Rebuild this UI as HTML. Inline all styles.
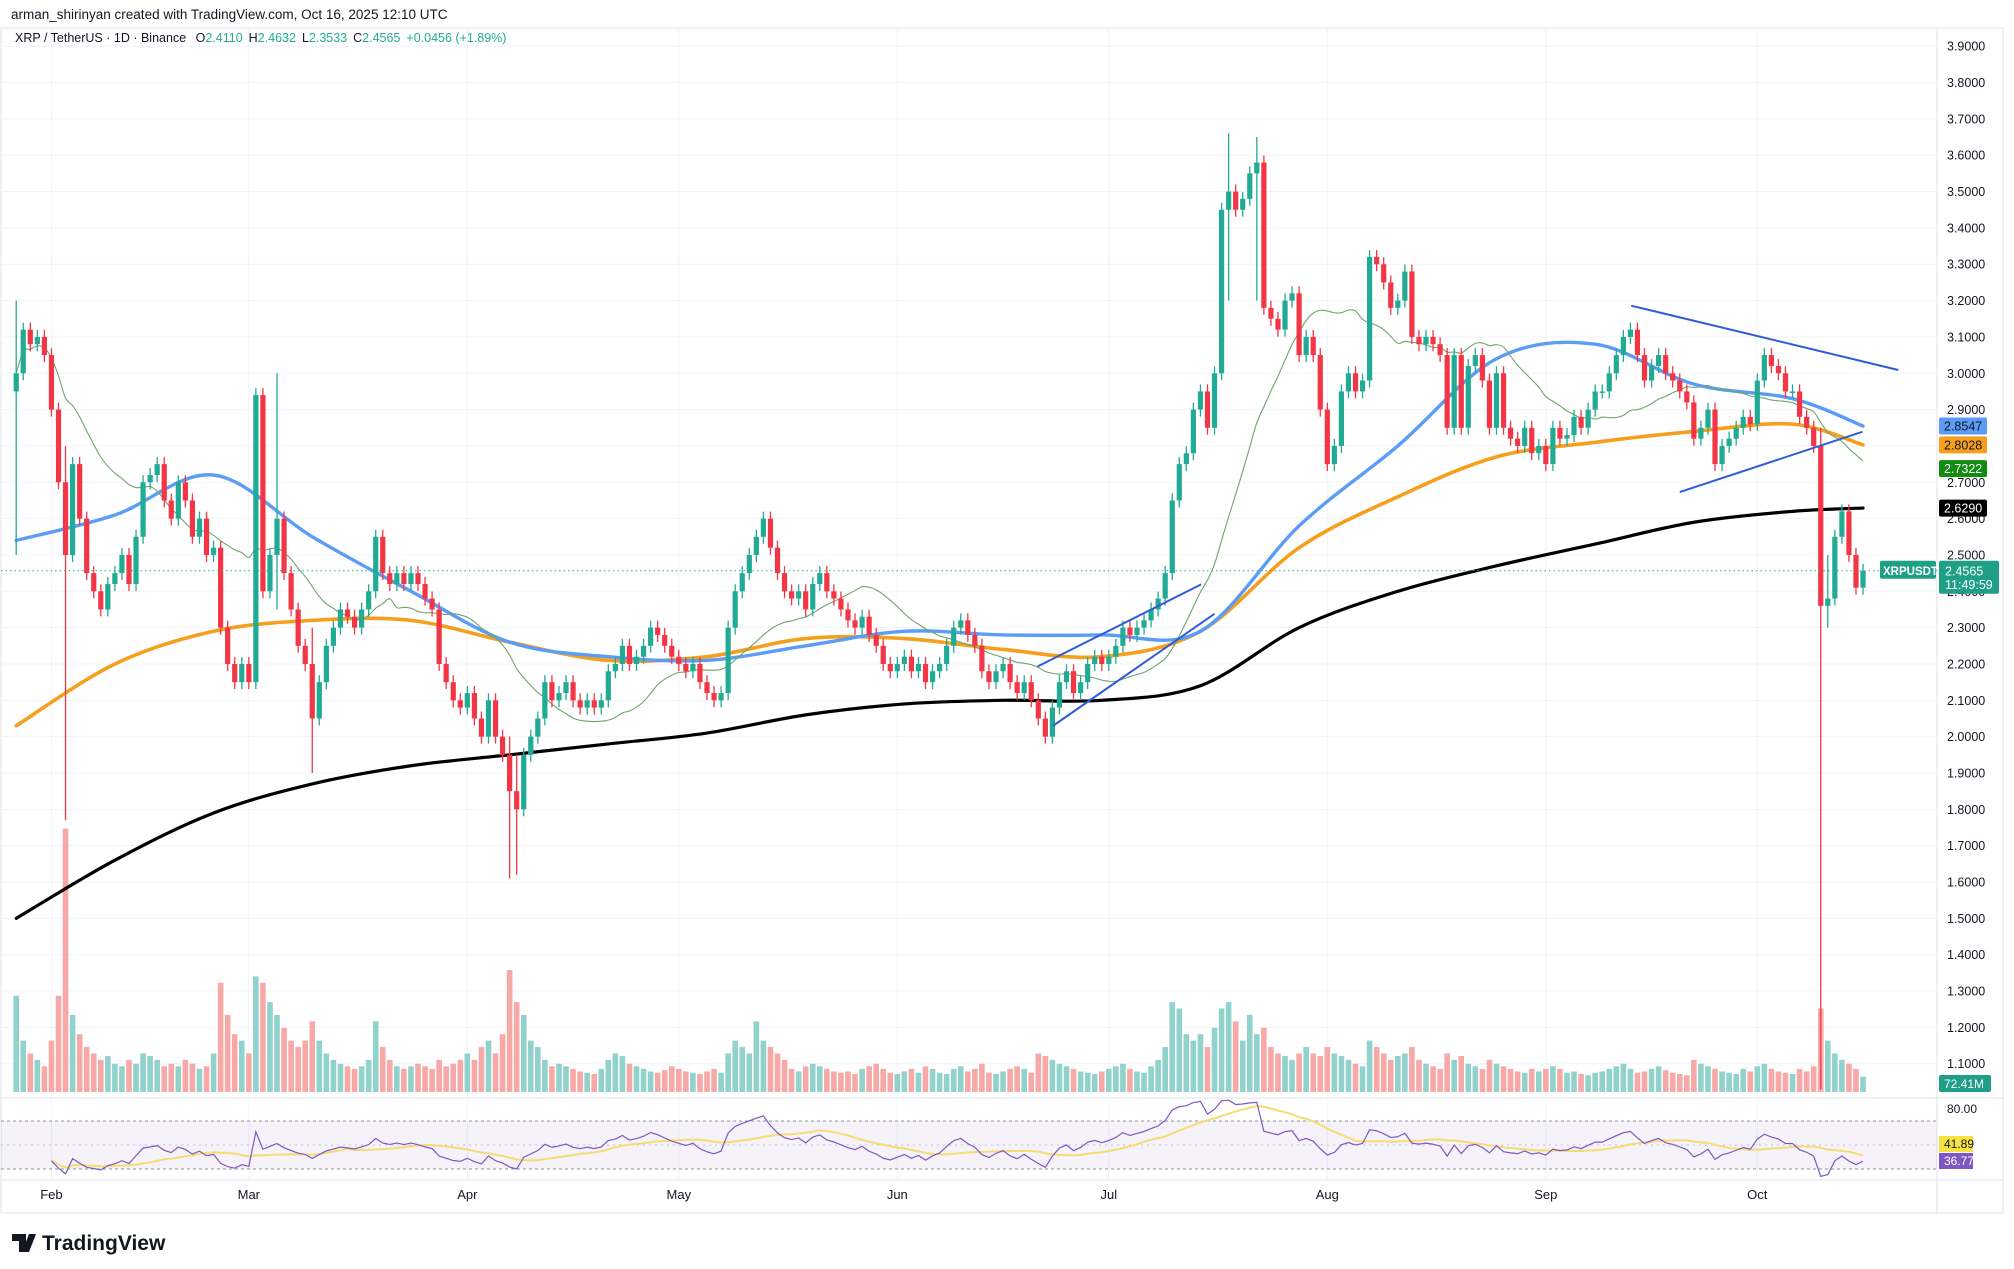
<!DOCTYPE html>
<html><head><meta charset="utf-8"><style>
html,body{margin:0;padding:0;background:#fff;width:2014px;height:1269px;overflow:hidden;font-family:"Liberation Sans",sans-serif}
svg{position:absolute;left:0;top:0}
</style></head><body>
<svg id="c" width="2014" height="1269" viewBox="0 0 2014 1269" xmlns="http://www.w3.org/2000/svg">
<text x="11" y="19" font-size="13.5" fill="#131722">arman_shirinyan created with TradingView.com, Oct 16, 2025 12:10 UTC</text>
<g id="grid"></g>
<g id="vol"></g>
<g id="mas"></g>
<g id="candles"></g>
<g id="draw"></g>
<g id="rsi"></g>
<g id="axis"></g>
<text x="15" y="42" font-size="12.5" fill="#131722">XRP / TetherUS · 1D · Binance <tspan dx="6">O</tspan><tspan fill="#22ab94">2.4110</tspan><tspan dx="6">H</tspan><tspan fill="#22ab94">2.4632</tspan><tspan dx="6">L</tspan><tspan fill="#22ab94">2.3533</tspan><tspan dx="6">C</tspan><tspan fill="#22ab94">2.4565</tspan><tspan dx="6" fill="#22ab94">+0.0456 (+1.89%)</tspan></text>
<g>
<path d="M12 1234h14v18h-7v-11h-7z M29 1234h7l-7 18h-7z" fill="#131722"/>
<circle cx="31" cy="1238" r="3" fill="#131722"/>
<text x="42" y="1250" font-size="21" font-weight="bold" fill="#131722">TradingView</text>
</g>
</svg>
<script>
// ---- data ----
const closes=[3.0,3.12,3.08,3.1,3.05,
2.9,2.7,2.5,2.75,2.6,2.45,2.4,2.35,2.42,2.45,2.5,2.42,2.55,2.7,2.72,2.75,2.65,2.6,2.7,2.65,2.55,2.6,2.5,2.52,2.3,2.2,2.15,2.2,
2.15,2.94,2.4,2.5,2.6,2.45,2.35,2.25,2.2,2.05,2.15,2.25,2.3,2.35,2.33,2.3,2.35,2.4,2.55,2.45,2.42,2.45,2.42,2.45,2.42,2.38,2.35,2.2,2.15,2.1,2.08,
2.12,2.05,2.0,2.1,2.0,1.95,1.85,1.8,1.95,2.0,2.05,2.15,2.1,2.12,2.15,2.1,2.08,2.1,2.08,2.1,2.18,2.2,2.25,2.2,2.22,2.25,2.3,2.28,2.25,2.22,
2.2,2.18,2.2,2.15,2.12,2.1,2.12,2.3,2.4,2.45,2.5,2.55,2.6,2.52,2.45,2.4,2.38,2.4,2.35,2.42,2.45,2.4,2.38,2.35,2.32,2.3,2.33,2.28,2.25,2.2,2.18,
2.2,2.22,2.18,2.2,2.15,2.18,2.2,2.25,2.3,2.32,2.28,2.25,2.18,2.15,2.18,2.2,2.15,2.12,2.15,2.1,2.05,2.0,2.08,2.15,2.18,2.12,2.15,2.2,2.22,2.2,
2.22,2.25,2.3,2.28,2.3,2.32,2.35,2.38,2.45,2.65,2.75,2.78,2.9,2.95,2.85,3.0,3.45,3.5,3.45,3.48,3.55,3.58,3.18,3.15,3.12,3.2,3.22,3.05,3.1,3.05,2.9,
2.75,2.8,2.95,3.0,2.95,2.98,3.32,3.3,3.25,3.18,3.2,3.28,3.1,3.08,3.1,3.08,3.05,2.85,3.05,2.85,3.02,3.05,2.98,2.85,3.0,2.85,2.82,2.8,2.85,2.78,2.8,
2.75,2.85,2.82,2.83,2.88,2.85,2.9,2.95,2.95,3.0,3.05,3.1,3.12,3.05,2.98,3.02,3.05,3.0,2.98,2.95,2.92,2.82,2.85,2.9,2.75,2.8,2.82,2.85,2.88,2.86,
2.98,3.05,3.02,3.0,2.95,2.95,2.88,2.85,2.8,2.36,2.38,2.55,2.62,2.5,2.41,2.4565];
const spikeIdx=[0,7,37,42,70,71,172,176,256,257];
const spikeHigh=[3.2,2.8,3.0,2.3,2.0,1.95,3.66,3.65,2.85,2.5];
const spikeLow=[2.5,1.77,2.35,1.9,1.61,1.62,3.2,3.2,1.03,2.3];
const volumes=[75,40,30,25,20,
40,75,205,60,45,35,30,25,28,22,20,25,22,30,28,25,20,22,20,25,22,18,20,30,85,60,45,40,
30,90,85,70,60,50,40,35,40,55,40,30,25,22,20,18,20,25,55,35,25,20,18,20,22,20,18,25,20,22,25,
30,25,35,40,30,45,95,70,60,40,35,25,20,22,20,18,16,15,14,18,25,30,28,22,20,18,16,15,17,20,
18,16,15,14,16,18,15,30,40,35,30,55,40,35,30,25,18,16,20,22,20,18,16,15,16,14,18,20,22,18,15,
14,16,18,15,20,18,15,14,18,20,16,18,22,15,14,16,18,20,18,15,30,28,25,22,20,18,16,15,14,16,
18,20,22,18,16,15,20,25,35,70,65,45,40,45,35,50,65,70,55,40,60,45,50,35,30,28,25,30,35,30,28,
35,30,28,25,22,20,40,35,30,25,28,30,35,25,22,20,18,30,25,28,22,20,18,25,22,20,18,16,15,18,16,
18,20,18,15,16,14,13,15,16,18,20,22,18,15,16,18,20,17,15,14,13,25,22,20,18,16,15,14,18,16,
20,22,18,16,15,14,18,16,20,65,40,30,25,22,18,12];
const maDays=[0,14,28,42,56,70,84,98,112,126,140,154,168,182,196,210,224,238,252,262];
const ma200=[1.50,1.66,1.79,1.87,1.92,1.95,1.98,2.01,2.06,2.09,2.10,2.10,2.14,2.30,2.40,2.47,2.53,2.59,2.62,2.629];
const ma100=[2.03,2.20,2.29,2.32,2.32,2.26,2.21,2.22,2.27,2.27,2.24,2.22,2.29,2.52,2.66,2.77,2.81,2.84,2.86,2.8028];
const ma50=[2.54,2.61,2.72,2.55,2.40,2.26,2.22,2.21,2.25,2.29,2.28,2.28,2.29,2.58,2.80,3.04,3.08,2.97,2.93,2.8547];
const trendLines=[[229.1,3.186,267.0,3.009],[236.0,2.673,261.9,2.839],[144.9,2.193,168.1,2.419],[147.1,2.03,170.0,2.338]];
const priceTicks=[1.1,1.2,1.3,1.4,1.5,1.6,1.7,1.8,1.9,2.0,2.1,2.2,2.3,2.4,2.5,2.6,2.7,2.8,2.9,3.0,3.1,3.2,3.3,3.4,3.5,3.6,3.7,3.8,3.9];
const monthLabels=["Feb","Mar","Apr","May","Jun","Jul","Aug","Sep","Oct"];
const monthDays=[5,33,64,94,125,155,186,217,247];

// ---- scales ----
const NS="http://www.w3.org/2000/svg";
const X=d=>16.2+d*7.049;
const Y=p=>46.2+(3.9-p)*363.4;
const VB=1092, VY=v=>VB-v*1.2844;
const RY=v=>1121+(70-v)*1.2;
function mk(tag,attrs,parent){const e=document.createElementNS(NS,tag);for(const k in attrs)e.setAttribute(k,attrs[k]);parent.appendChild(e);return e;}
const g=id=>document.getElementById(id);
function smoothPath(pts){
  let d='M'+pts[0][0]+','+pts[0][1];
  for(let i=0;i<pts.length-1;i++){
    const p0=pts[Math.max(0,i-1)],p1=pts[i],p2=pts[i+1],p3=pts[Math.min(pts.length-1,i+2)];
    const c1x=p1[0]+(p2[0]-p0[0])/6,c1y=p1[1]+(p2[1]-p0[1])/6;
    const c2x=p2[0]-(p3[0]-p1[0])/6,c2y=p2[1]-(p3[1]-p1[1])/6;
    d+=' C'+c1x+','+c1y+' '+c2x+','+c2y+' '+p2[0]+','+p2[1];
  }
  return d;
}

// grid
const grid=g('grid');
mk('rect',{x:1,y:28,width:2002,height:1185,fill:'none',stroke:'#e0e3eb'},grid);
mk('line',{x1:1937,y1:28,x2:1937,y2:1213,stroke:'#e0e3eb'},grid);
mk('line',{x1:1,y1:1098,x2:2003,y2:1098,stroke:'#e0e3eb'},grid);
mk('line',{x1:1,y1:1180,x2:2003,y2:1180,stroke:'#e0e3eb'},grid);
priceTicks.forEach(p=>{
  const l=mk('line',{x1:1,y1:Y(p),x2:1937,y2:Y(p),stroke:'#f0f3fa'},grid);
  
  
});
monthDays.forEach((d,i)=>{
  const l=mk('line',{x1:X(d),y1:28,x2:X(d),y2:1180,stroke:'#f0f3fa'},grid);
  
  
  const t=mk('text',{x:X(d),y:1199,'font-size':13,fill:'#131722','text-anchor':'middle'},grid);
  t.textContent=monthLabels[i];
  
  
});

// candles + volume
const cg=g('candles'), vg=g('vol');
const UP='#22ab94', DN='#f23645';
closes.forEach((c,i)=>{
  const o=i===0?2.95:closes[i-1];
  const up=c>=o;
  const col=up?UP:DN;
  const x=X(i);
  let hi=Math.max(o,c), lo=Math.min(o,c);
  let yh=Y(hi)-7, yl=Y(lo)+7;
  const si=spikeIdx.indexOf(i);
  if(si>=0){yh=Math.min(yh,Y(spikeHigh[si]));yl=Math.max(yl,Y(spikeLow[si]));}
  const w=mk('line',{x1:x,y1:yh,x2:x,y2:yl,stroke:col,'stroke-width':1.3},cg);
  
  
  const bt=Y(hi), bh=Math.max(1.5,Y(lo)-Y(hi));
  const b=mk('rect',{x:x-2.6,y:bt,width:5.2,height:bh,fill:col},cg);
  
  
  const v=mk('rect',{x:x-2.8,y:VY(volumes[i]),width:5.6,height:VB-VY(volumes[i]),fill:up?'#92d2cc':'#f7a9a7'},vg);
  
  
});

// moving averages
function maLine(vals,col,w,name){
  const pts=maDays.map((d,i)=>[X(d),Y(vals[i])]);
  const l=mk('path',{d:smoothPath(pts),fill:'none',stroke:col,'stroke-width':w,'stroke-linejoin':'round','stroke-linecap':'round'},g('mas'));
  
  
}
maLine(ma200,'#000000',3.2,'sma-200');
maLine(ma100,'#f59f1c',3.6,'sma-100');
maLine(ma50,'#5b9cf6',3.4,'sma-50');
// SMA 20 derived from closes
const sma20=closes.map((c,i)=>{let s=0,n=0;for(let j=Math.max(0,i-19);j<=i;j++){s+=closes[j];n++;}return s/n;});
const p20=sma20.map((v,i)=>[X(i),Y(v)]);
const l20=mk('path',{d:smoothPath(p20),fill:'none',stroke:'#6fa56a','stroke-width':1.1},g('mas'));



// trend lines
trendLines.forEach(t=>{
  const l=mk('line',{x1:X(t[0]),y1:Y(t[1]),x2:X(t[2]),y2:Y(t[3]),stroke:'#2f5cd6','stroke-width':2},g('draw'));
  
  
});
const last=closes[closes.length-1];
const dl=mk('line',{x1:1,y1:Y(last),x2:1937,y2:Y(last),stroke:'#22ab94','stroke-dasharray':'1.5 3'},g('draw'));



// RSI
const rg=g('rsi');
mk('rect',{x:1,y:RY(70),width:1936,height:RY(30)-RY(70),fill:'#7e57c2','fill-opacity':0.08},rg);
[70,50,30].forEach(v=>{mk('line',{x1:1,y1:RY(v),x2:1937,y2:RY(v),stroke:'#787b86','stroke-dasharray':v===50?'2 4':'3 3','stroke-opacity':v===50?0.4:0.8},rg);});
const rsi=[];let ag=0,al=0;
for(let i=1;i<closes.length;i++){
  const ch=closes[i]-closes[i-1];const gn=Math.max(ch,0),ls=Math.max(-ch,0);
  if(i<=5){ag+=gn/5;al+=ls/5;if(i===5)rsi[i]=100-100/(1+ag/(al||1e-9));}
  else{ag=(ag*13+gn)/14;al=(al*13+ls)/14;rsi[i]=100-100/(1+ag/(al||1e-9));}
}
const rsiMa=[];
for(let i=0;i<closes.length;i++){let s=0,n=0;for(let j=i-13;j<=i;j++)if(rsi[j]!==undefined){s+=rsi[j];n++;}if(n)rsiMa[i]=s/n;}
const clampR=v=>Math.max(15,Math.min(90,v));
let pm='',pr='';
rsiMa.forEach((v,i)=>{if(v!==undefined)pm+=X(i)+','+RY(clampR(v))+' ';});
rsi.forEach((v,i)=>{if(v!==undefined)pr+=X(i)+','+RY(clampR(v))+' ';});
const lm=mk('polyline',{points:pm,fill:'none',stroke:'#f5dc73','stroke-width':2},rg);


const lr=mk('polyline',{points:pr,fill:'none',stroke:'#7e57c2','stroke-width':1.2},rg);



// price axis labels
const ax=g('axis');
priceTicks.forEach(p=>{
  const t=mk('text',{x:1947,y:Y(p)+4.5,'font-size':12.5,fill:'#131722'},ax);
  t.textContent=p.toFixed(4);
  
  
});
function badge(y,txt,bg,fg){
  const r=mk('rect',{x:1939,y:y-8.5,width:48,height:17,fill:bg,rx:2},ax);
  
  
  const t=mk('text',{x:1944,y:y+4.5,'font-size':12.5,fill:fg},ax);
  t.textContent=txt;
  
  
}
badge(Y(ma50[ma50.length-1]),ma50[ma50.length-1].toFixed(4),'#5b9cf6','#131722');
badge(Y(ma100[ma100.length-1]),ma100[ma100.length-1].toFixed(4),'#f59f1c','#131722');
badge(Y(2.7322)-2,'2.7322','#118c11','#fff');
badge(Y(ma200[ma200.length-1]),ma200[ma200.length-1].toFixed(4),'#000','#fff');
const ly=Y(last);
mk('rect',{x:1939,y:ly-10,width:60,height:33,fill:'#1f9f86',rx:2},ax);
const lt=mk('text',{x:1945,y:ly+4.5,'font-size':12.5,fill:'#fff'},ax);
lt.textContent=last.toFixed(4);


const ct=mk('text',{x:1945,y:ly+18,'font-size':12.5,fill:'#fff'},ax);
ct.textContent='11:49:59';


mk('rect',{x:1880,y:ly-10,width:56,height:18,fill:'#1f9f86',rx:2},ax);
const st=mk('text',{x:1883,y:ly+4,'font-size':11.5,fill:'#fff','font-weight':'bold'},ax);
st.textContent='XRPUSDT';


mk('rect',{x:1939,y:1075,width:52,height:17,fill:'#1f9f86',rx:2},ax);
const vt=mk('text',{x:1944,y:1088,'font-size':12,fill:'#fff'},ax);
vt.textContent='72.41M';


const r8=mk('text',{x:1947,y:RY(80)+4,'font-size':12,fill:'#131722'},ax);
r8.textContent='80.00';


mk('rect',{x:1939,y:1136,width:34,height:16,fill:'#f7e33f'},ax);
const t1=mk('text',{x:1944,y:1148,'font-size':12,fill:'#131722'},ax);
t1.textContent='41.89';


mk('rect',{x:1939,y:1153,width:34,height:16,fill:'#7e57c2'},ax);
const t2=mk('text',{x:1944,y:1165,'font-size':12,fill:'#fff'},ax);
t2.textContent='36.77';


</script>
</body></html>
